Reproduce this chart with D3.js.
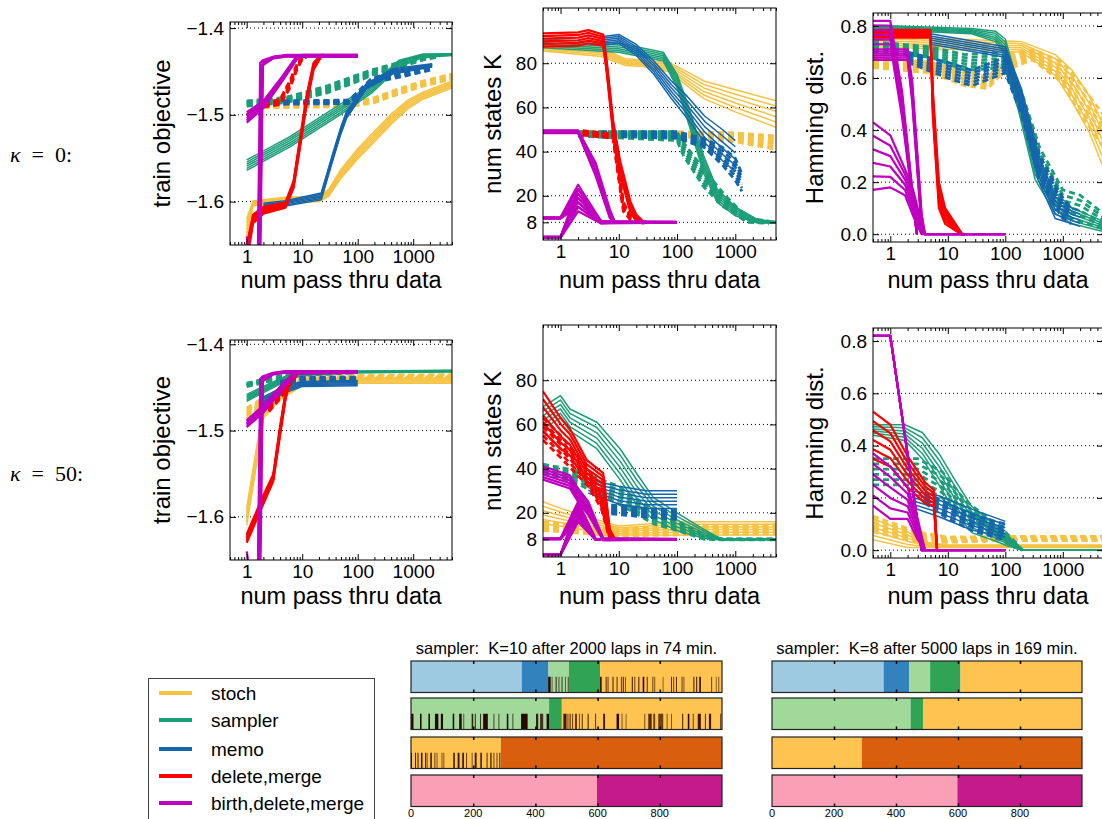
<!DOCTYPE html>
<html>
<head>
<meta charset="utf-8">
<script src="https://cdn.jsdelivr.net/npm/d3@7"></script>
<style>
  body { margin: 0; background: #fff; }
  svg { display: block; font-family: "Liberation Sans", Arial, sans-serif; }
</style>
</head>
<body>
<svg class="svg-canvas" width="1102" height="819"></svg>
<script>
// ---- data ----
var methods = ["stoch", "sampler", "memo", "delete,merge", "birth,delete,merge"];
var methodColors = ["#f5c242", "#1b9e77", "#1565ad", "#ff0000", "#bf00bf"];
var runShifts = [-1, -0.6, -0.2, 0.2, 0.6, 1];
var passTicks = [1, 10, 100, 1000];
var objTicks = [-1.4, -1.5, -1.6];
var statesTicks = [8, 20, 40, 60, 80];
var hammTicks = [0, 0.2, 0.4, 0.6, 0.8];

// each point: [num passes, value, half-width of the run band]
var objK0 = [
  {m: "stoch", dash: 0, pts: [[1,-1.63,.01],[1.3,-1.602,.003],[5,-1.598,.003],[20,-1.597,.003],[30,-1.59,.004],[50,-1.568,.005],[100,-1.545,.006],[200,-1.525,.006],[400,-1.505,.006],[800,-1.488,.005],[1500,-1.478,.004],[5000,-1.465,.004]]},
  {m: "stoch", dash: 1, pts: [[2,-1.49,.002],[20,-1.489,.002],[80,-1.488,.002],[200,-1.483,.003],[500,-1.474,.003],[1500,-1.464,.003],[5000,-1.456,.003]]},
  {m: "sampler", dash: 0, pts: [[1,-1.558,.006],[6,-1.531,.006],[48,-1.494,.006],[185,-1.469,.005],[560,-1.441,.004],[1450,-1.432,.002],[5000,-1.4305,.001]]},
  {m: "sampler", dash: 1, pts: [[1,-1.487,.003],[5,-1.483,.003],[27,-1.471,.004],[80,-1.46,.004],[185,-1.451,.003],[600,-1.442,.003],[1450,-1.435,.002],[3000,-1.432,.001]]},
  {m: "memo", dash: 0, pts: [[2,-1.605,.003],[5,-1.602,.003],[22,-1.594,.004],[35,-1.55,.004],[48,-1.521,.004],[63,-1.5,.004],[143,-1.467,.003],[425,-1.45,.003],[2200,-1.443,.002]]},
  {m: "memo", dash: 1, pts: [[2,-1.486,.002],[70,-1.485,.002],[185,-1.46,.003],[740,-1.452,.003],[2200,-1.445,.003]]},
  {m: "delete,merge", dash: 0, pts: [[1,-1.66,.01],[1.3,-1.62,.005],[2,-1.61,.004],[5,-1.604,.003],[7,-1.58,.004],[9,-1.535,.005],[12,-1.483,.005],[16,-1.444,.004],[22,-1.432,.001],[25,-1.432,.001]]},
  {m: "delete,merge", dash: 1, pts: [[2,-1.489,.002],[4,-1.485,.003],[6,-1.465,.004],[8,-1.445,.003],[10,-1.434,.002],[12,-1.432,.001]]},
  {m: "birth,delete,merge", dash: 0, pts: [[1,-1.68,.04],[1.55,-1.74,.02],[1.75,-1.56,.12],[1.95,-1.44,.003],[3,-1.434,.001],[5,-1.432,.001],[100,-1.432,.001]]},
  {m: "birth,delete,merge", dash: 0, pts: [[1,-1.503,.006],[2,-1.488,.004],[4,-1.462,.003],[8,-1.434,.002],[10,-1.432,.001],[100,-1.432,.001]]}
];

var statesK0 = [
  {m: "stoch", dash: 0, pts: [[0.5,87,1.5],[5,85,2],[13,80.5,1.5],[26,80,1.5],[76,78,2],[130,74,3],[288,68,4],[1000,63,5],[5000,57,6]]},
  {m: "stoch", dash: 1, pts: [[2,48,1],[100,48,1],[1000,46.5,2],[5000,44,3]]},
  {m: "sampler", dash: 0, pts: [[0.5,89,2],[10,87,2],[58,83,2],[100,72,3],[170,54,4],[288,34,4],[490,20,3],[1000,13,2],[2400,8.5,.8],[5000,8,.4]]},
  {m: "sampler", dash: 1, pts: [[2,48,1],[100,47,2],[130,41,3],[288,28,4],[630,18,3],[1600,9,1],[3800,8,.5]]},
  {m: "memo", dash: 0, pts: [[5,90,2],[10,91,2],[20,86,2.5],[40,78,3],[80,68,4],[150,60,5],[300,50,6],[600,43,7],[1000,38,7]]},
  {m: "memo", dash: 1, pts: [[5,48,1],[100,47.5,1.5],[288,44,2],[600,38,4],[1000,32,5],[1300,26,4]]},
  {m: "delete,merge", dash: 0, pts: [[0.5,90.5,3],[2,91,3],[3,92,3],[5.4,90.5,2.5],[6.2,78.5,2.5],[8,51,3],[10.5,33,3],[15.8,15,2.5],[20,10,1.5],[26,8,.5],[30,8,.2]]},
  {m: "delete,merge", dash: 1, pts: [[2.4,48.5,1],[8,47,1],[9,38,2],[12,15,2],[16,10,1],[26,8,.3]]},
  {m: "birth,delete,merge", dash: 0, pts: [[0.5,49,.6],[2,49,.6],[4,32,3],[7,12,2],[8.5,8,.3],[100,8,.2]]},
  {m: "birth,delete,merge", dash: 0, pts: [[0.5,10,.3],[1,10,.3],[2,20,5],[5,8,.5],[100,8,.2]]},
  {m: "birth,delete,merge", dash: 0, pts: [[0.5,1.2,.3],[1,1.2,.3],[2,18,5],[5,8,.5],[8,8,.2]]}
];

var hammK0 = [
  {m: "stoch", dash: 0, pts: [[0.5,.74,.02],[13,.73,.02],[190,.72,.02],[740,.65,.04],[1450,.57,.06],[2900,.46,.07],[5000,.34,.08]]},
  {m: "stoch", dash: 1, pts: [[0.5,.66,.02],[5,.64,.02],[20,.6,.03],[50,.58,.02],[100,.66,.03],[300,.69,.02],[1000,.62,.04],[2000,.52,.06],[5000,.4,.06]]},
  {m: "sampler", dash: 0, pts: [[0.5,.795,.008],[26,.78,.01],[67,.76,.02],[100,.72,.03],[190,.48,.05],[330,.26,.05],[740,.12,.04],[1450,.07,.03],[5000,.03,.02]]},
  {m: "sampler", dash: 1, pts: [[0.5,.72,.02],[5,.7,.02],[20,.66,.03],[100,.67,.03],[190,.5,.05],[400,.28,.05],[1000,.12,.05],[2000,.1,.05],[5000,.05,.03]]},
  {m: "memo", dash: 0, pts: [[5,.75,.02],[100,.7,.02],[190,.52,.04],[370,.26,.05],[740,.1,.04],[1450,.07,.03],[2000,.06,.03]]},
  {m: "memo", dash: 1, pts: [[2,.68,.02],[10,.63,.03],[26,.6,.03],[100,.65,.03],[190,.5,.04],[400,.25,.05],[1000,.1,.04],[1400,.07,.03]]},
  {m: "delete,merge", dash: 0, pts: [[0.5,.77,.015],[5,.77,.015],[5.5,.5,.05],[7,.15,.05],[9,.07,.03],[17.6,0,.002],[20,0,0]]},
  {m: "birth,delete,merge", dash: 0, pts: [[0.5,.69,.02],[2,.69,.02],[2.4,.55,.04],[3.5,.05,.03],[4,0,0],[100,0,0]]},
  {m: "birth,delete,merge", dash: 0, pts: [[0.5,.775,.045],[1,.775,.045],[1.6,.5,.05],[2.9,0,.001]]},
  {m: "birth,delete,merge", dash: 0, pts: [[0.5,.3,.13],[1,.28,.1],[1.8,.2,.05],[2.5,.12,.05],[3.5,.02,.02],[4,0,0]]}
];

var objK50 = [
  {m: "stoch", dash: 0, pts: [[1,-1.6,.01],[1.5,-1.53,.01],[2,-1.48,.006],[4,-1.46,.004],[10,-1.445,.003],[100,-1.442,.003],[5000,-1.442,.003]]},
  {m: "stoch", dash: 1, pts: [[1,-1.48,.006],[2,-1.466,.004],[10,-1.44,.002],[100,-1.438,.002],[5000,-1.437,.002]]},
  {m: "sampler", dash: 0, pts: [[1,-1.462,.004],[5,-1.44,.003],[10,-1.434,.002],[100,-1.432,.001],[5000,-1.431,.001]]},
  {m: "sampler", dash: 1, pts: [[1,-1.447,.002],[3,-1.44,.002],[10,-1.434,.002],[100,-1.432,.001]]},
  {m: "memo", dash: 0, pts: [[2,-1.465,.004],[5,-1.452,.004],[10,-1.446,.003],[100,-1.445,.003]]},
  {m: "memo", dash: 1, pts: [[4,-1.445,.002],[10,-1.44,.002],[100,-1.44,.002]]},
  {m: "delete,merge", dash: 0, pts: [[1,-1.625,.005],[2,-1.58,.005],[3,-1.555,.004],[4,-1.5,.005],[5,-1.46,.004],[6,-1.44,.003],[8,-1.433,.001],[10,-1.432,.001]]},
  {m: "delete,merge", dash: 1, pts: [[2.5,-1.475,.003],[4,-1.46,.003],[6,-1.445,.002],[8,-1.434,.001]]},
  {m: "birth,delete,merge", dash: 0, pts: [[1,-1.68,.04],[1.55,-1.74,.02],[1.75,-1.56,.12],[1.95,-1.44,.003],[3,-1.434,.001],[5,-1.432,.001],[100,-1.432,.001]]},
  {m: "birth,delete,merge", dash: 0, pts: [[1,-1.492,.004],[2,-1.475,.004],[5,-1.445,.003],[8,-1.433,.001],[100,-1.432,.001]]}
];

var statesK50 = [
  {m: "stoch", dash: 0, pts: [[0.5,20,5],[1,18,4],[3,15,3],[10,12,2],[100,13,3],[5000,13,3]]},
  {m: "stoch", dash: 1, pts: [[0.5,14,2],[10,11,1.5],[100,12,2],[5000,12.5,2]]},
  {m: "sampler", dash: 0, pts: [[0.5,63,5],[1,68,5],[1.45,62,5],[4.2,55,6],[10.5,42,7],[20,31,7],[39,22,5],[100,16,4],[288,10.5,2],[560,8,.3],[5000,8,.2]]},
  {m: "sampler", dash: 1, pts: [[0.5,40,2],[2,36,3],[10,28,4],[40,18,3],[100,14,2],[300,9,1],[600,8,.2],[5000,8,.2]]},
  {m: "memo", dash: 0, pts: [[3,32,3],[10,28,4],[30,26,4],[100,26,4]]},
  {m: "memo", dash: 1, pts: [[5,22,2],[30,20,2],[100,19,2]]},
  {m: "delete,merge", dash: 0, pts: [[0.5,66,9],[1,56,7],[1.45,52,6],[2.8,39,5],[5.4,34,4],[7,10.6,2],[8.5,8,.3],[10,8,0]]},
  {m: "delete,merge", dash: 1, pts: [[0.5,58,5],[1,50,5],[3,36,4],[5,25,3],[7,10,2],[8.5,8,0]]},
  {m: "birth,delete,merge", dash: 0, pts: [[0.5,38,3],[1.45,34,3],[2,28,3],[3,22,3],[5.4,8,.5],[100,8,.2]]},
  {m: "birth,delete,merge", dash: 0, pts: [[0.5,8.2,.2],[1,8.2,.2],[2,21,4],[4,8,.3],[5,8,0]]},
  {m: "birth,delete,merge", dash: 0, pts: [[0.5,1,.2],[1,1,.2],[2,20,4],[4,8,.3]]}
];

var hammK50 = [
  {m: "stoch", dash: 0, pts: [[0.5,.08,.04],[2,.04,.03],[4,.02,.01],[10,.015,.005],[5000,.015,.005]]},
  {m: "stoch", dash: 1, pts: [[0.5,.1,.03],[3,.05,.02],[10,.04,.01],[100,.045,.008],[5000,.045,.008]]},
  {m: "sampler", dash: 0, pts: [[0.5,.46,.02],[1.8,.45,.03],[3.6,.4,.05],[7,.31,.06],[13.5,.206,.06],[26,.117,.05],[67,.065,.03],[100,.04,.02],[190,0,0],[5000,0,0]]},
  {m: "sampler", dash: 1, pts: [[0.5,.3,.05],[3,.3,.05],[8,.25,.05],[20,.15,.04],[60,.08,.03],[100,.05,.02],[150,.02,.01],[200,0,0]]},
  {m: "memo", dash: 0, pts: [[2,.2,.03],[7,.168,.04],[26,.117,.04],[100,.08,.03]]},
  {m: "memo", dash: 1, pts: [[4,.2,.02],[10,.15,.03],[30,.1,.03],[100,.07,.03]]},
  {m: "delete,merge", dash: 0, pts: [[0.5,.44,.09],[1,.4,.08],[2,.3,.06],[4,.22,.04],[5.7,.2,.03],[6.5,0,0],[10,0,0]]},
  {m: "birth,delete,merge", dash: 0, pts: [[0.5,.82,0],[1,.82,0],[3.5,0,0],[100,0,0]]},
  {m: "birth,delete,merge", dash: 0, pts: [[0.5,.27,.1],[1,.22,.1],[2,.18,.06],[3,.08,.04],[4,0,0]]}
];

// segmentation bars (time index 0..1000)
var laneTicks = [0, 200, 400, 600, 800];
var barTitles = ["sampler:  K=10 after 2000 laps in 74 min.", "sampler:  K=8 after 5000 laps in 169 min."];
var stateColors = {lb: "#9ecae1", b: "#3182bd", lg: "#a1d99b", g: "#31a354", y: "#fec44f", o: "#d95f0e", pk: "#fa9fb5", mg: "#c51b8a"};
var segsEst = [
  [[0,356,"lb"],[356,442,"b"],[442,508,"lg"],[508,608,"g"],[608,1000,"y"]],
  [[0,444,"lg"],[444,485,"g"],[485,1000,"y"]],
  [[0,289,"y"],[289,1000,"o"]],
  [[0,598,"pk"],[598,1000,"mg"]]
];
var segsTrue = [
  [[0,360,"lb"],[360,443,"b"],[443,510,"lg"],[510,608,"g"],[608,1000,"y"]],
  [[0,447,"lg"],[447,487,"g"],[487,1000,"y"]],
  [[0,290,"y"],[290,1000,"o"]],
  [[0,598,"pk"],[598,1000,"mg"]]
];
// error marks under the estimated segmentation: [start, width, shade]
var errMarks = [
  [[441,8,1],[452,2,.6],[465,2,.9],[474,2,.7],[484,2,.8],[495,2,.6],[504,2,.7],[608,5,1],[626,2,.8],[632,2,.7],[648,2,.9],[661,2,.8],[675,2,.7],[681,2,.9],[688,2,.6],[710,2,.9],[718,2,.7],[731,2,.9],[745,5,1],[758,2,.8],[776,2,.7],[782,2,.6],[809,2,.5],[836,2,.8],[843,2,.7],[852,2,.8],[870,2,.7],[876,2,.6],[908,2,.9],[917,3,.9],[927,5,1],[965,2,.7],[980,2,.5],[988,2,.6]],
  [[0,8,1],[29,5,1],[56,5,1],[77,11,1],[96,7,1],[134,5,1],[155,8,1],[168,3,.6],[195,5,.9],[205,4,.7],[222,3,.8],[232,15,1],[265,3,.7],[281,3,.7],[308,5,1],[326,3,.7],[354,21,1],[402,7,.9],[415,10,.8],[436,8,1],[490,10,.9],[503,3,.7],[510,3,.9],[518,3,.7],[528,5,.9],[540,3,.6],[549,3,.8],[568,3,.9],[592,3,.8],[618,6,.9],[661,8,1],[677,3,.6],[690,3,.5],[750,2,.6],[763,11,.8],[779,6,.7],[795,16,.7],[822,2,.6],[836,2,.6],[872,3,.9],[890,5,1],[906,2,.7],[922,10,.9],[945,2,.8],[958,7,.9],[994,2,.7]],
  [[0,3,1],[13,3,.9],[21,3,.9],[32,5,.9],[45,2,.8],[50,3,.7],[62,5,.9],[75,3,.7],[82,3,.6],[98,2,.6],[104,2,.6],[136,5,.9],[150,6,.9],[165,5,1],[177,2,.7],[195,2,.6],[205,6,.9],[223,5,.9],[243,3,.8],[255,4,.9],[265,2,.7],[275,2,.7],[284,3,.9]],
  []
];

// ---- drawing ----
var svg = d3.select(".svg-canvas");
var colorOf = d3.scaleOrdinal().domain(methods).range(methodColors);

var panels = [
  {data: objK0, box: [230, 452, 22, 245], dom: [-1.65, -1.393], ticks: objTicks, fmt: d3.format(".1f"), label: "train objective", lx: 162, xl: 288},
  {data: statesK0, box: [543, 776, 8, 240], dom: [0, 105], ticks: statesTicks, fmt: d3.format("d"), label: "num states K", lx: 493, xl: 288},
  {data: hammK0, box: [873, 1103, 13, 242], dom: [-0.03, 0.85], ticks: hammTicks, fmt: d3.format(".1f"), label: "Hamming dist.", lx: 815, xl: 288},
  {data: objK50, box: [230, 452, 340, 560], dom: [-1.65, -1.395], ticks: objTicks, fmt: d3.format(".1f"), label: "train objective", lx: 162, xl: 604},
  {data: statesK50, box: [543, 776, 325, 557], dom: [0, 105], ticks: statesTicks, fmt: d3.format("d"), label: "num states K", lx: 493, xl: 604},
  {data: hammK50, box: [873, 1103, 328, 558], dom: [-0.03, 0.85], ticks: hammTicks, fmt: d3.format(".1f"), label: "Hamming dist.", lx: 815, xl: 604}
];

panels.forEach(function(p, i) {
  var x0 = p.box[0], x1 = p.box[1], y0 = p.box[2], y1 = p.box[3];
  var x = d3.scaleLog().domain([0.5, 5000]).range([x0, x1]);
  var y = d3.scaleLinear().domain(p.dom).range([y1, y0]);
  var g = svg.append("g");

  g.append("clipPath").attr("id", "clip" + i)
    .append("rect").attr("x", x0).attr("y", y0).attr("width", x1 - x0).attr("height", y1 - y0);

  // dotted horizontal grid
  g.selectAll(".grid").data(p.ticks).enter()
    .append("line")
    .attr("x1", x0).attr("x2", x1)
    .attr("y1", function(d) { return y(d); })
    .attr("y2", function(d) { return y(d); })
    .attr("stroke", "#000").attr("stroke-width", 1)
    .attr("stroke-dasharray", "1,3");

  var line = d3.line()
    .x(function(d) { return x(d[0]); })
    .y(function(d) { return y(d[1]); });

  var lines = g.append("g").attr("clip-path", "url(#clip" + i + ")");
  methods.forEach(function(m) {
    p.data.filter(function(s) { return s.m === m; }).forEach(function(s) {
      var thick = (m === "delete,merge" || m === "birth,delete,merge");
      runShifts.forEach(function(k) {
        lines.append("path")
          .datum(s.pts.map(function(d) { return [d[0], d[1] + k * d[2]]; }))
          .attr("d", line)
          .attr("fill", "none")
          .attr("stroke", colorOf(m))
          .attr("stroke-width", s.dash ? 2.8 : (thick ? 2.2 : 1.5))
          .attr("stroke-dasharray", s.dash ? "6,4" : null)
          .attr("stroke-linejoin", "round");
      });
    });
  });

  // frame
  g.append("rect")
    .attr("x", x0).attr("y", y0).attr("width", x1 - x0).attr("height", y1 - y0)
    .attr("fill", "none").attr("stroke", "#000").attr("stroke-width", 1);

  var minors = x.ticks().filter(function(v) { return passTicks.indexOf(v) < 0; });

  function styleAxis(sel) {
    sel.select(".domain").remove();
    sel.selectAll("text").attr("font-size", 19).attr("fill", "#000")
      .attr("font-family", "'Liberation Sans', Arial, sans-serif");
    sel.selectAll("line").attr("stroke", "#000");
  }

  g.append("g").attr("transform", "translate(0," + y1 + ")")
    .call(d3.axisBottom(x).tickValues(passTicks).tickFormat(d3.format("d")).tickSize(-6).tickPadding(5))
    .call(styleAxis);
  g.append("g").attr("transform", "translate(0," + y1 + ")")
    .call(d3.axisBottom(x).tickValues(minors).tickFormat("").tickSize(-3))
    .call(styleAxis);
  g.append("g").attr("transform", "translate(0," + y0 + ")")
    .call(d3.axisTop(x).tickValues(passTicks).tickFormat("").tickSize(-6))
    .call(styleAxis);
  g.append("g").attr("transform", "translate(0," + y0 + ")")
    .call(d3.axisTop(x).tickValues(minors).tickFormat("").tickSize(-3))
    .call(styleAxis);
  g.append("g").attr("transform", "translate(" + x0 + ",0)")
    .call(d3.axisLeft(y).tickValues(p.ticks).tickFormat(p.fmt).tickSize(-6).tickPadding(6))
    .call(styleAxis);
  g.append("g").attr("transform", "translate(" + x1 + ",0)")
    .call(d3.axisRight(y).tickValues(p.ticks).tickFormat("").tickSize(-6))
    .call(styleAxis);

  g.append("text")
    .attr("transform", "translate(" + p.lx + "," + ((y0 + y1) / 2) + ") rotate(-90)")
    .attr("text-anchor", "middle").attr("dy", "0.35em")
    .attr("font-size", 24).text(p.label);
  g.append("text")
    .attr("x", (x0 + x1) / 2).attr("y", p.xl)
    .attr("text-anchor", "middle")
    .attr("font-size", 23.5).text("num pass thru data");
});

// kappa row labels
[["0:", 162], ["50:", 481]].forEach(function(r) {
  var t = svg.append("text").attr("x", 10).attr("y", r[1])
    .attr("font-family", "'Liberation Serif', 'DejaVu Serif', serif")
    .attr("font-size", 22).style("white-space", "pre");
  t.append("tspan").attr("font-style", "italic").text("κ");
  t.append("tspan").text("  =  " + r[0]);
});

// legend
var legend = svg.append("g");
legend.append("rect").attr("x", 148.5).attr("y", 678.5).attr("width", 226).attr("height", 160)
  .attr("fill", "#fff").attr("stroke", "#444").attr("stroke-width", 1);
var legendY = [693, 720, 749, 776, 803];
methods.forEach(function(m, i) {
  legend.append("line").attr("x1", 159).attr("x2", 192)
    .attr("y1", legendY[i]).attr("y2", legendY[i])
    .attr("stroke", colorOf(m)).attr("stroke-width", 4);
  legend.append("text").attr("x", 211).attr("y", legendY[i]).attr("dy", "0.35em")
    .attr("font-size", 19).text(m);
});

// segmentation bars
var laneRowsY = [661, 698, 737, 775];
var laneH = 31.5;
[[segsEst, errMarks, 411, 722], [segsTrue, null, 772, 1082]].forEach(function(grp, gi) {
  var segs = grp[0], marks = grp[1];
  var t = d3.scaleLinear().domain([0, 1000]).range([grp[2], grp[3]]);
  var g = svg.append("g");
  g.append("text").attr("x", (grp[2] + grp[3]) / 2).attr("y", 654)
    .attr("text-anchor", "middle").attr("font-size", 16.5)
    .style("white-space", "pre").text(barTitles[gi]);

  segs.forEach(function(row, ri) {
    var yTop = laneRowsY[ri];
    g.selectAll(".seg" + ri).data(row).enter()
      .append("rect")
      .attr("x", function(d) { return t(d[0]); })
      .attr("width", function(d) { return t(d[1]) - t(d[0]); })
      .attr("y", yTop).attr("height", laneH)
      .attr("fill", function(d) { return stateColors[d[2]]; });
    if (marks) {
      g.selectAll(".mark" + ri).data(marks[ri]).enter()
        .append("rect")
        .attr("x", function(d) { return t(d[0]); })
        .attr("width", function(d) { return Math.max(1, t(d[0] + d[1]) - t(d[0])); })
        .attr("y", yTop + laneH * 0.5).attr("height", laneH * 0.5)
        .attr("fill", "#2b0500")
        .attr("opacity", function(d) { return d[2]; });
    }
    g.append("rect").attr("x", t(0)).attr("y", yTop).attr("width", t(1000) - t(0)).attr("height", laneH)
      .attr("fill", "none").attr("stroke", "#222").attr("stroke-width", 1.2);
    g.append("g").attr("transform", "translate(0," + yTop + ")")
      .call(d3.axisTop(t).tickValues(laneTicks.slice(1)).tickFormat("").tickSize(-3))
      .call(function(s) { s.select(".domain").remove(); s.selectAll("line").attr("stroke", "#000").attr("stroke-width", 1.5); });
    g.append("g").attr("transform", "translate(0," + (yTop + laneH) + ")")
      .call(d3.axisBottom(t).tickValues(laneTicks.slice(1)).tickFormat("").tickSize(-3))
      .call(function(s) { s.select(".domain").remove(); s.selectAll("line").attr("stroke", "#000").attr("stroke-width", 1.5); });
  });

  g.selectAll(".lab").data(laneTicks).enter()
    .append("text")
    .attr("x", function(d) { return t(d); })
    .attr("y", 817)
    .attr("text-anchor", "middle")
    .attr("font-size", 11)
    .text(function(d) { return d; });
});
</script>
</body>
</html>
